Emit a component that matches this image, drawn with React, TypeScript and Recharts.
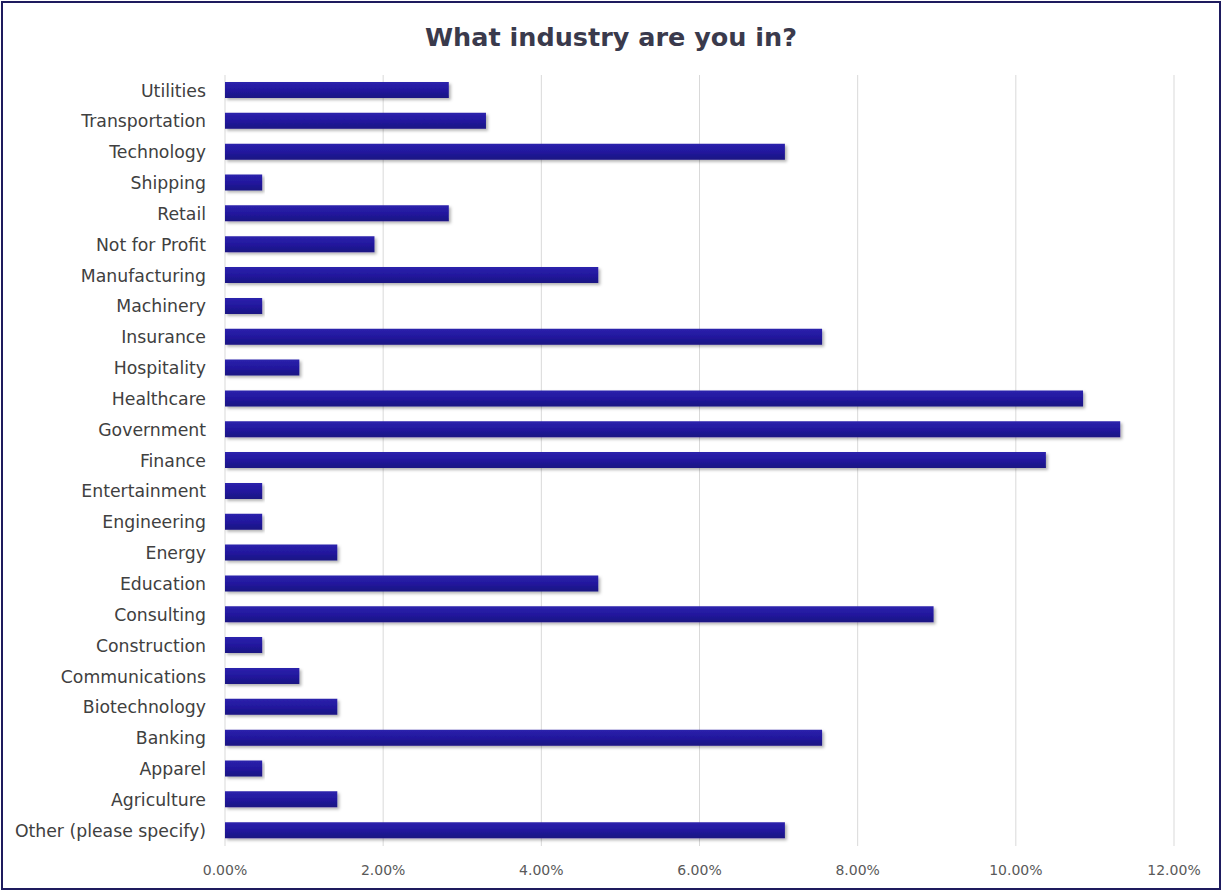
import React from 'react';
import { BarChart, Bar, XAxis, YAxis, CartesianGrid } from 'recharts';

const industries = [
  'Utilities',
  'Transportation',
  'Technology',
  'Shipping',
  'Retail',
  'Not for Profit',
  'Manufacturing',
  'Machinery',
  'Insurance',
  'Hospitality',
  'Healthcare',
  'Government',
  'Finance',
  'Entertainment',
  'Engineering',
  'Energy',
  'Education',
  'Consulting',
  'Construction',
  'Communications',
  'Biotechnology',
  'Banking',
  'Apparel',
  'Agriculture',
  'Other (please specify)',
];

const shares = [
  2.83, 3.30, 7.08, 0.47, 2.83, 1.89, 4.72, 0.47, 7.55, 0.94, 10.85, 11.32, 10.38,
  0.47, 0.47, 1.42, 4.72, 8.96, 0.47, 0.94, 1.42, 7.55, 0.47, 1.42, 7.08,
];

const xTicks = [0, 2, 4, 6, 8, 10, 12];

const data = industries.map((name, i) => ({ name, value: shares[i] }));

const FONT = '"DejaVu Sans", sans-serif';

export default function App() {
  return (
    <div style={{ position: 'absolute', left: 0, top: 0, width: 1222, height: 890, background: '#fff', fontFamily: FONT }}>
      <div
        style={{
          position: 'absolute',
          left: 1,
          top: 1,
          width: 1220,
          height: 889,
          boxSizing: 'border-box',
          border: '2px solid #1e1b5e',
        }}
      />
      <div
        style={{
          position: 'absolute',
          left: 0,
          top: 18,
          width: 1222,
          textAlign: 'center',
          fontSize: 25.5,
          fontWeight: 'bold',
          color: '#3a3a4c',
          lineHeight: '38px',
          fontFamily: FONT,
        }}
      >
        What industry are you in?
      </div>
      <div style={{ position: 'absolute', left: 0, top: 0 }}>
        <BarChart
          width={1222}
          height={890}
          data={data}
          layout="vertical"
          margin={{ top: 75, right: 48, bottom: 14, left: 0 }}
          barSize={16}
        >
          <defs>
            <linearGradient id="barGrad" x1="0" y1="0" x2="0" y2="1">
              <stop offset="0%" stopColor="#2c22ac" />
              <stop offset="50%" stopColor="#22189e" />
              <stop offset="100%" stopColor="#1a1282" />
            </linearGradient>
            <filter id="barShadow" x="-5%" y="-30%" width="110%" height="180%">
              <feDropShadow dx="2" dy="2" stdDeviation="1.5" floodColor="#000" floodOpacity="0.3" />
            </filter>
          </defs>
          <CartesianGrid horizontal={false} stroke="#d9d9d9" strokeWidth={1} />
          <XAxis
            type="number"
            domain={[0, 12]}
            ticks={xTicks}
            tickFormatter={(v: number) => v.toFixed(2) + '%'}
            axisLine={false}
            tickLine={false}
            tickMargin={13}
            height={30}
            tick={{ fill: '#595959', fontSize: 14, fontFamily: FONT }}
          />
          <YAxis
            type="category"
            dataKey="name"
            width={225}
            axisLine={false}
            tickLine={false}
            tickSize={0}
            tickMargin={19}
            interval={0}
            tick={{ fill: '#404040', fontSize: 17.3, fontFamily: FONT }}
          />
          <Bar
            dataKey="value"
            fill="url(#barGrad)"
            filter="url(#barShadow)"
            isAnimationActive={false}
          />
        </BarChart>
      </div>
    </div>
  );
}
